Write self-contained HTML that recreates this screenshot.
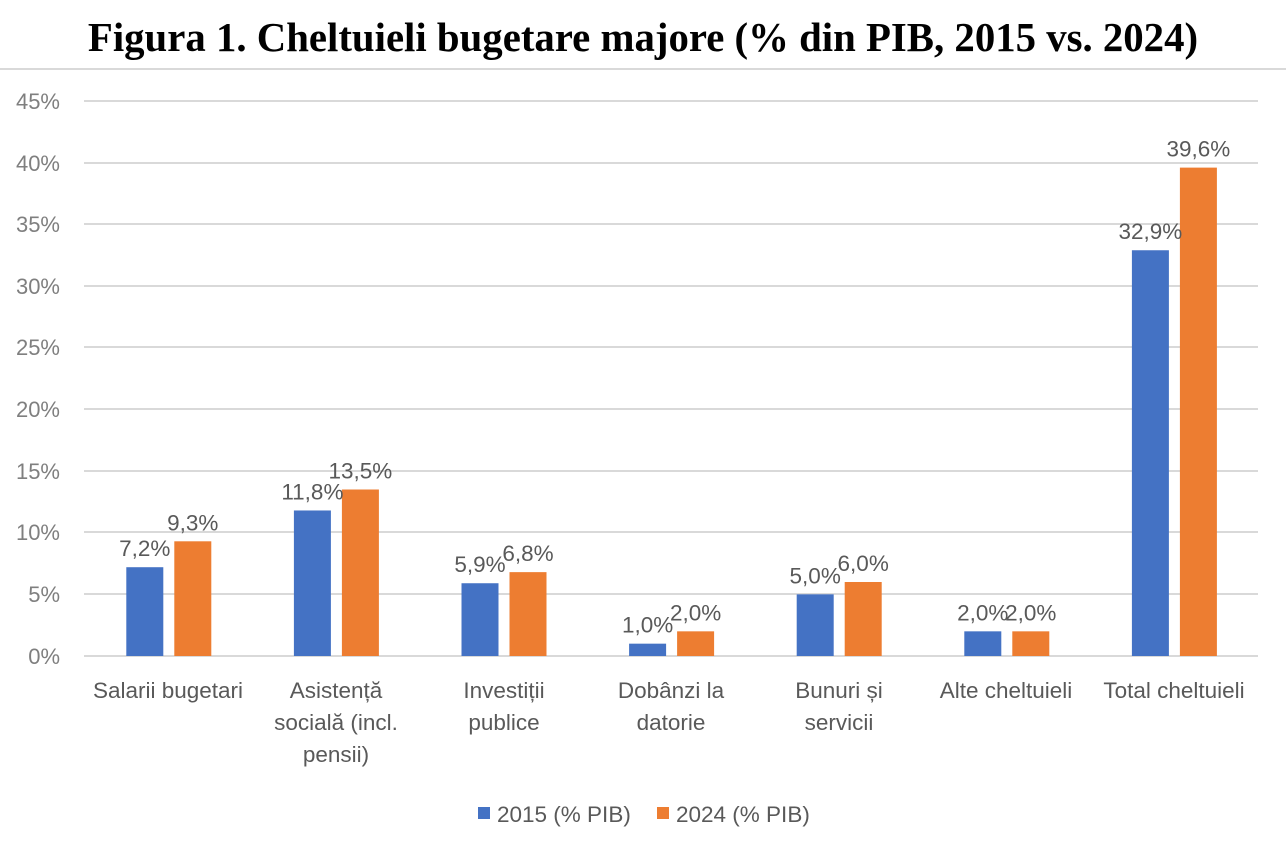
<!DOCTYPE html>
<html><head><meta charset="utf-8"><style>
body{margin:0;background:#fff;width:1286px;height:852px;overflow:hidden}
</style></head><body>
<svg width="1286" height="852" xmlns="http://www.w3.org/2000/svg">
<text x="643" y="51" text-anchor="middle" font-family="Liberation Serif, serif" font-weight="bold" font-size="40.8">Figura 1. Cheltuieli bugetare majore (% din PIB, 2015 vs. 2024)</text>
<line x1="0" y1="69" x2="1286" y2="69" stroke="#d9d9d9" stroke-width="2"/>
<g stroke="#d9d9d9" stroke-width="2">
<line x1="84" x2="1258" y1="101" y2="101"/><line x1="84" x2="1258" y1="163" y2="163"/>
<line x1="84" x2="1258" y1="224" y2="224"/><line x1="84" x2="1258" y1="286" y2="286"/>
<line x1="84" x2="1258" y1="347" y2="347"/><line x1="84" x2="1258" y1="409" y2="409"/>
<line x1="84" x2="1258" y1="471" y2="471"/><line x1="84" x2="1258" y1="532" y2="532"/>
<line x1="84" x2="1258" y1="594" y2="594"/><line x1="84" x2="1258" y1="656" y2="656"/>
</g>
<g font-family="Liberation Sans, sans-serif" font-size="22" fill="#7f7f7f" text-anchor="end">
<text x="60" y="109">45%</text><text x="60" y="171">40%</text><text x="60" y="232">35%</text>
<text x="60" y="294">30%</text><text x="60" y="355">25%</text><text x="60" y="417">20%</text>
<text x="60" y="479">15%</text><text x="60" y="540">10%</text><text x="60" y="602">5%</text>
<text x="60" y="664">0%</text>
</g>
<g id="bars"></g>
<g font-family="Liberation Sans, sans-serif" font-size="22.5" fill="#595959" text-anchor="middle" id="lbl"></g>
<g font-family="Liberation Sans, sans-serif" font-size="22.5" fill="#595959" text-anchor="middle">
<text x="168" y="698">Salarii bugetari</text>
<text x="336" y="698">Asistență</text><text x="336" y="730">socială (incl.</text><text x="336" y="762">pensii)</text>
<text x="504" y="698">Investiții</text><text x="504" y="730">publice</text>
<text x="671" y="698">Dobânzi la</text><text x="671" y="730">datorie</text>
<text x="839" y="698">Bunuri și</text><text x="839" y="730">servicii</text>
<text x="1006" y="698">Alte cheltuieli</text>
<text x="1174" y="698">Total cheltuieli</text>
</g>
<rect x="478" y="807" width="12" height="12" fill="#4472c4"/>
<text x="497" y="822" font-family="Liberation Sans, sans-serif" font-size="22.5" fill="#595959">2015 (% PIB)</text>
<rect x="657" y="807" width="12" height="12" fill="#ed7d31"/>
<text x="676" y="822" font-family="Liberation Sans, sans-serif" font-size="22.5" fill="#595959">2024 (% PIB)</text>
</svg>
<script>
const d=[[7.2,9.3],[11.8,13.5],[5.9,6.8],[1.0,2.0],[5.0,6.0],[2.0,2.0],[32.9,39.6]];
const ns="http://www.w3.org/2000/svg";
const b=document.getElementById('bars'),l=document.getElementById('lbl');
d.forEach((v,i)=>{const c=85+167.6*(i+0.5);
[[v[0],c-42.5,'#4472c4'],[v[1],c+5.5,'#ed7d31']].forEach(([val,x,col])=>{
const h=val*12.333,y=656-h;
const r=document.createElementNS(ns,'rect');r.setAttribute('x',x);r.setAttribute('y',y);r.setAttribute('width',37);r.setAttribute('height',h);r.setAttribute('fill',col);b.appendChild(r);
const t=document.createElementNS(ns,'text');t.setAttribute('x',x+18.5);t.setAttribute('y',y-11);t.textContent=val.toFixed(1).replace('.',',')+'%';l.appendChild(t);});});
</script>
</body></html>
